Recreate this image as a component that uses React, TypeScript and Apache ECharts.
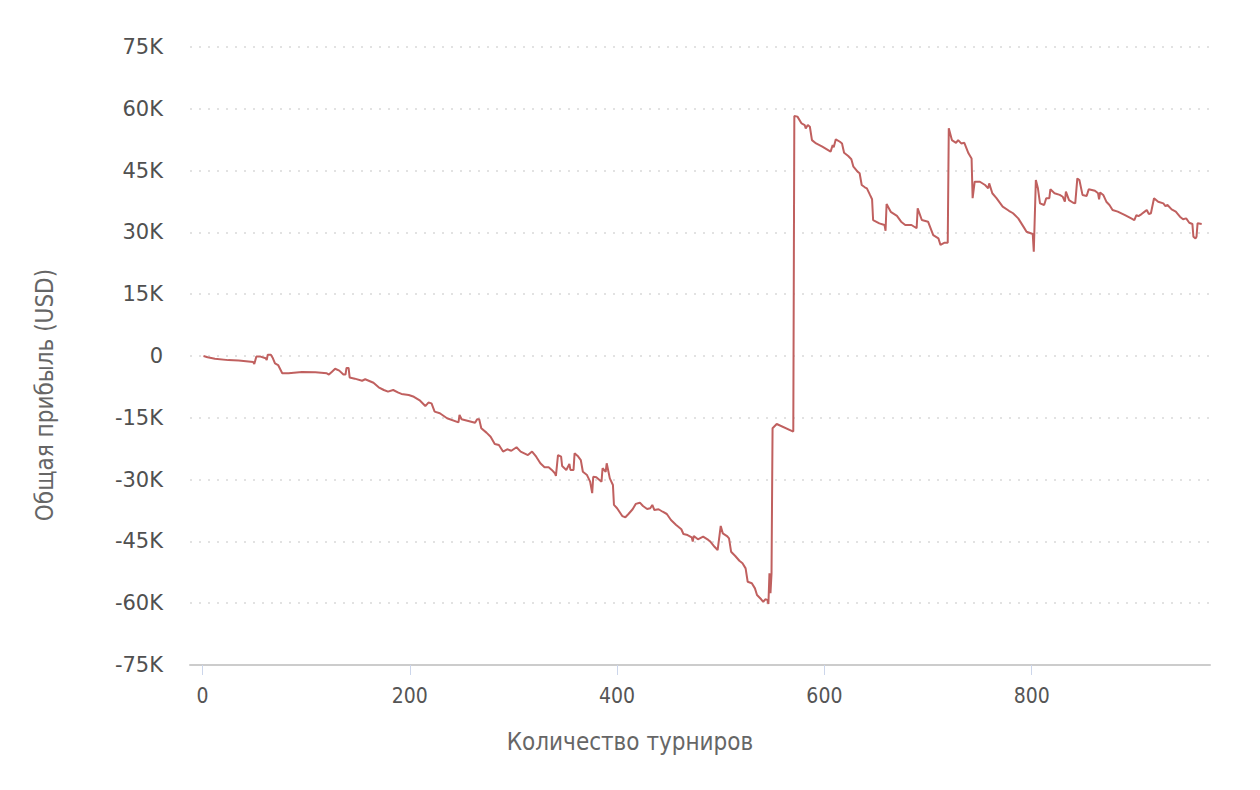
import React, { useEffect, useRef } from "react";
import * as echarts from "echarts";

const tournaments = [
  1, 5, 12, 25, 35, 49, 50, 52, 56, 61, 62, 63, 66, 68, 70, 73, 77, 83, 96, 109,
  120, 122, 125, 128, 132, 136, 138, 139, 141, 142, 147, 154, 157, 165, 170, 175, 179, 184, 189, 192,
  199, 204, 210, 215, 218, 221, 224, 229, 236, 247, 248, 250, 263, 265, 267, 269, 274, 278, 282, 286,
  290, 294, 298, 303, 307, 314, 318, 322, 326, 330, 334, 337, 340, 341, 343, 346, 347, 351, 354, 355,
  358, 359, 362, 365, 367, 371, 374, 376, 377, 380, 385, 386, 389, 390, 392, 393, 396, 397, 400, 405,
  408, 411, 415, 418, 422, 425, 429, 432, 434, 436, 440, 444, 448, 452, 457, 462, 464, 468, 472, 473,
  474, 478, 483, 488, 490, 494, 497, 500, 502, 506, 508, 510, 514, 518, 521, 524, 526, 530, 533, 535,
  539, 541, 543, 545, 546, 547, 548, 549, 550, 554, 570, 571, 574, 578, 581, 582, 584, 586, 588, 592,
  598, 606, 608, 609, 611, 615, 617, 619, 623, 626, 628, 632, 634, 636, 639, 641, 644, 646, 647, 653,
  658, 659, 660, 664, 670, 674, 678, 684, 689, 690, 694, 700, 705, 710, 712, 716, 719, 720, 723, 727,
  729, 732, 735, 739, 742, 743, 745, 750, 755, 758, 759, 762, 766, 772, 778, 782, 787, 792, 795, 801,
  802, 804, 806, 808, 812, 814, 817, 818, 822, 827, 830, 832, 833, 836, 840, 842, 844, 846, 849, 853,
  855, 861, 864, 865, 866, 869, 872, 875, 878, 883, 890, 896, 899, 901, 903, 906, 909, 911, 913, 915,
  918, 922, 927, 929, 931, 935, 939, 943, 946, 949, 952, 955, 956, 958, 959, 960, 964,
];

const profit = [
  0, -300, -650, -1000, -1100, -1450, -1950, -150, -150, -550, -1000, 300, 300, -550, -1800, -2200, -4200, -4200, -3900, -3950,
  -4200, -4500, -3800, -3100, -3550, -4500, -4500, -2900, -2900, -5200, -5500, -6000, -5650, -6500, -7600, -8250, -8650, -8250, -8900, -9200,
  -9450, -9900, -10850, -12150, -11300, -11500, -13500, -13900, -15100, -16100, -14300, -15350, -16200, -15350, -15350, -17550, -18600, -19600, -21350, -21600,
  -23200, -22650, -23000, -22150, -23200, -24050, -23200, -24450, -26050, -27000, -27000, -27650, -28450, -29100, -24050, -24450, -26700, -27650, -26200, -27650,
  -27650, -23600, -24250, -25250, -28100, -28900, -30500, -33300, -29300, -29450, -30500, -27250, -28100, -26050, -28450, -29700, -31300, -36150, -36950, -38850,
  -39150, -38350, -37200, -35900, -35600, -36400, -37150, -36950, -36150, -37400, -37200, -37800, -38350, -39800, -41000, -42050, -43200, -43450, -44000, -45050,
  -43700, -44500, -43850, -44650, -45050, -46300, -47100, -41250, -43050, -43700, -44250, -47500, -48550, -49700, -50300, -51550, -54800, -55150, -56400, -58000,
  -59050, -59650, -59050, -59200, -60200, -52750, -57600, -52750, -17550, -16500, -18350, 58250, 58100, 56450, 56050, 55250, 56050, 55650, 52400, 51600,
  50800, 49600, 51200, 50650, 52600, 52000, 51600, 49350, 48550, 47750, 45950, 44750, 44350, 41500, 40950, 40700, 39100, 38050, 33000, 32200,
  31800, 30400, 36900, 35000, 34000, 32600, 31800, 31800, 31000, 35850, 33000, 32600, 29350, 28550, 26950, 27500, 27500, 55250, 52400, 51750,
  52400, 51600, 51750, 49200, 47950, 38300, 42300, 42300, 41500, 40700, 41900, 39500, 38300, 36250, 35250, 34650, 33400, 31400, 30150, 29600,
  25300, 42700, 40700, 37050, 36650, 38300, 38300, 40450, 39500, 39100, 38650, 37450, 39900, 37850, 37200, 37050, 43100, 42700, 39100, 38850,
  40450, 40100, 39500, 38050, 39700, 39100, 37450, 36650, 35450, 35050, 34200, 33400, 33000, 34200, 33950, 34450, 35050, 35450, 34450, 34650,
  38300, 37450, 37050, 36400, 36650, 35600, 35050, 33800, 33200, 33400, 32350, 32050, 28950, 28550, 28950, 32200, 32050,
];

const xTicks = [0, 200, 400, 600, 800];
const xTitle = "Количество турниров";
const yTitle = "Общая прибыль (USD)";

const narrow = "'Liberation Sans Narrow', 'DejaVu Sans Condensed', 'Roboto', sans-serif";

export default function App() {
  const ref = useRef<HTMLDivElement>(null);
  useEffect(() => {
    if (!ref.current) return;
    const chart = echarts.init(ref.current, undefined, { renderer: "svg" });
    const data = tournaments.map((t, i) => [t, profit[i]]);
    chart.setOption({
      animation: false,
      backgroundColor: "#ffffff",
      grid: { left: 190, right: 50, top: 47, bottom: 125, containLabel: false },
      xAxis: {
        type: "value",
        min: -12,
        max: 972,
        axisLine: { show: true, onZero: false, lineStyle: { color: "#cccccc", width: 2 } },
        axisTick: { show: true, length: 10, customValues: xTicks, lineStyle: { color: "#ccd6eb", width: 1 } },
        axisLabel: {
          customValues: xTicks,
          margin: 20,
          color: "#555555",
          fontSize: 21,
          fontFamily: narrow,
        },
        splitLine: { show: false },
      },
      yAxis: {
        type: "value",
        min: -75000,
        max: 75000,
        interval: 15000,
        axisLine: { show: false },
        axisTick: { show: false },
        axisLabel: {
          margin: 27,
          color: "#505050",
          fontSize: 21,
          fontFamily: "'DejaVu Sans', sans-serif",
          formatter: (v: number) => (v === 0 ? "0" : `${v / 1000}K`),
        },
        splitLine: { show: true, lineStyle: { color: "#d9d9d9", width: 1.5, type: [2, 7] } },
      },
      series: [
        {
          type: "line",
          data,
          showSymbol: false,
          symbol: "none",
          lineStyle: { color: "#c0605f", width: 2 },
        },
      ],
      graphic: [
        {
          type: "text",
          x: 630,
          y: 742,
          style: {
            text: xTitle,
            fill: "#666666",
            fontSize: 24,
            fontFamily: narrow,
            textAlign: "center",
            textVerticalAlign: "middle",
          },
        },
        {
          type: "text",
          x: 45,
          y: 395,
          rotation: Math.PI / 2,
          style: {
            text: yTitle,
            fill: "#666666",
            fontSize: 24,
            fontFamily: narrow,
            textAlign: "center",
            textVerticalAlign: "middle",
          },
        },
      ],
    });
    return () => chart.dispose();
  }, []);
  return (
    <div
      ref={ref}
      style={{ position: "absolute", left: 0, top: 0, width: 1260, height: 790 }}
    />
  );
}
